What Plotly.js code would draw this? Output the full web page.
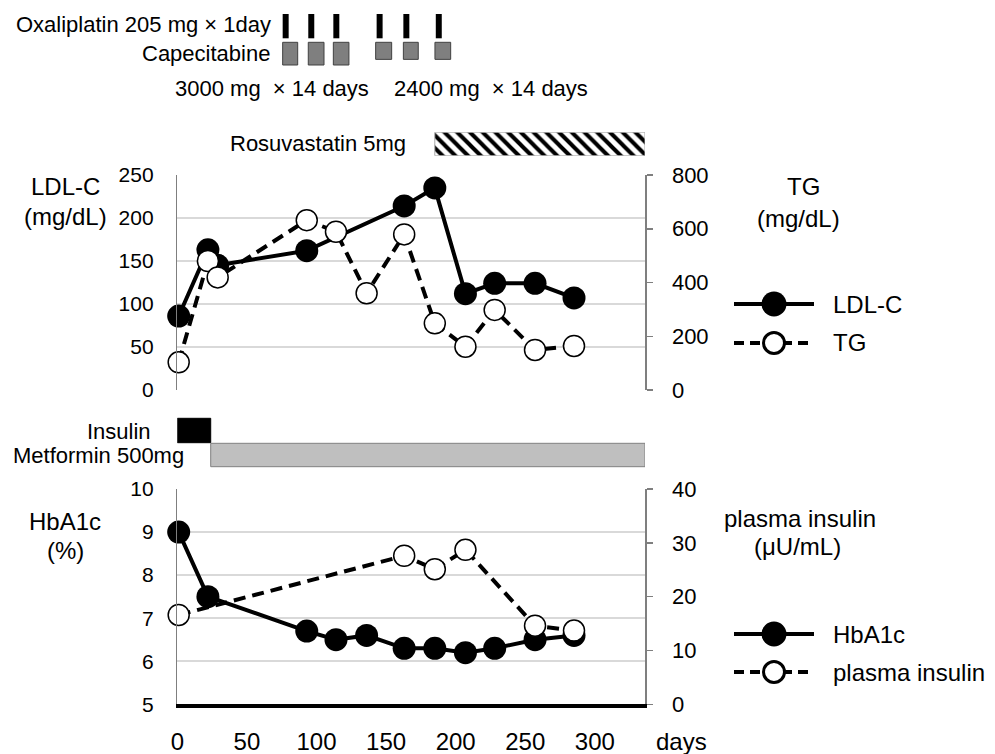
<!DOCTYPE html>
<html><head><meta charset="utf-8">
<script src="https://cdn.plot.ly/plotly-3.0.1.min.js"></script>
<style>html,body{margin:0;padding:0;background:#fff}</style>
</head><body><div id="chart" style="width:995px;height:754px"></div>
<script>
// ---- data ----
const xTicks = [0, 50, 100, 150, 200, 250, 300];
const xMax = 336;
const ldlDays = [1, 22, 29, 93, 163, 185, 207, 228, 257, 285];
const ldlValues = [86, 163, 145, 162, 214, 235, 112, 124, 124, 107];
const tgDays = [1, 22, 29, 93, 114, 136, 163, 185, 207, 228, 257, 285];
const tgValues = [103, 480, 419, 632, 589, 360, 579, 248, 161, 298, 149, 164];
const hba1cDays = [1, 22, 93, 114, 136, 163, 185, 207, 228, 257, 285];
const hba1cValues = [9.0, 7.5, 6.7, 6.5, 6.6, 6.3, 6.3, 6.2, 6.3, 6.5, 6.6];
const insulinDays = [1, 163, 185, 207, 257, 285];
const insulinValues = [16.6, 27.6, 25.1, 28.7, 14.6, 13.7];
const ldlTicks = [0, 50, 100, 150, 200, 250];
const tgTicks = [0, 200, 400, 600, 800];
const hba1cTicks = [5, 6, 7, 8, 9, 10];
const insulinTicks = [0, 10, 20, 30, 40];
const oxaliplatinDays = [75.7, 94.1, 112.1, 143.2, 162.4, 185.7];
const capecitabineStart = [75.7, 94.1, 112.1, 142.5, 162.4, 185.1];
const capecitabineEnd = [86.5, 105.4, 123.3, 154.0, 173.1, 196.4];
const capecitabineDose = [3000, 3000, 3000, 2400, 2400, 2400];
const rosuvastatinPeriod = [185, xMax];
const insulinTherapy = [0, 24];
const metforminPeriod = [24, xMax];

// ---- layout helpers ----
const W = 995, H = 754;
const px = x => x / W;
const py = y => 1 - y / H;
const FONT = 'Liberation Sans, Arial, Helvetica, sans-serif';
const xDom = [px(177.3), px(645)];
const AX = '#7f7f7f';
const GRID = '#d9d9d9';

const traces = [
  {x: ldlDays, y: ldlValues, xaxis: 'x', yaxis: 'y', mode: 'lines+markers', cliponaxis: false,
   line: {color: '#000', width: 4}, marker: {size: 23, color: '#000'}},
  {x: tgDays, y: tgValues, xaxis: 'x', yaxis: 'y2', mode: 'lines+markers', cliponaxis: false,
   line: {color: '#000', width: 4, dash: '12px,7px'}, marker: {size: 21, color: '#fff', line: {color: '#000', width: 1.5}}},
  {x: hba1cDays, y: hba1cValues, xaxis: 'x2', yaxis: 'y3', mode: 'lines+markers', cliponaxis: false,
   line: {color: '#000', width: 4}, marker: {size: 23, color: '#000'}},
  {x: insulinDays, y: insulinValues, xaxis: 'x2', yaxis: 'y4', mode: 'lines+markers', cliponaxis: false,
   line: {color: '#000', width: 4, dash: '12px,7px'}, marker: {size: 21, color: '#fff', line: {color: '#000', width: 1.5}}},
  {type: 'bar', orientation: 'h', y: [0], x: [rosuvastatinPeriod[1] - rosuvastatinPeriod[0]], base: [rosuvastatinPeriod[0]],
   width: [1], xaxis: 'x', yaxis: 'y5', hoverinfo: 'skip',
   marker: {color: '#fff', line: {color: '#a6a6a6', width: 1},
            pattern: {shape: '\\', fgcolor: '#000', bgcolor: '#fff', size: 9, solidity: 0.45}}}
];

const shapes = [];
// oxaliplatin
oxaliplatinDays.forEach(d => shapes.push({type: 'rect', xref: 'x', yref: 'paper', x0: d, x1: d + 4.3,
  y0: py(38.3), y1: py(14), fillcolor: '#000', line: {width: 0}}));
// capecitabine
capecitabineStart.forEach((d, i) => {
  const h = 22.7 * capecitabineDose[i] / 3000 * (capecitabineDose[i] < 3000 ? 0.94 : 1);
  shapes.push({type: 'rect', xref: 'x', yref: 'paper', x0: d, x1: capecitabineEnd[i],
    y0: py(42.3 + h), y1: py(42.3), fillcolor: '#7f7f7f', line: {color: '#404040', width: 1}});
});
// insulin & metformin
shapes.push({type: 'rect', xref: 'x', yref: 'paper', x0: insulinTherapy[0], x1: insulinTherapy[1],
  y0: py(442.7), y1: py(418.3), fillcolor: '#000', line: {color: '#000', width: 1}});
shapes.push({type: 'rect', xref: 'x', yref: 'paper', x0: metforminPeriod[0], x1: metforminPeriod[1],
  y0: py(466.7), y1: py(443.3), fillcolor: '#bfbfbf', line: {color: '#808080', width: 1}});

// legends
function legend(yc, filled) {
  shapes.push({type: 'line', xref: 'paper', yref: 'paper', x0: px(734), x1: px(814), y0: py(yc), y1: py(yc),
    line: {color: '#000', width: 4, dash: filled ? 'solid' : '10px,6px'}});
  const r = filled ? 12.5 : 10.5;
  shapes.push({type: 'circle', xref: 'paper', yref: 'paper', x0: px(774 - r), x1: px(774 + r), y0: py(yc + r), y1: py(yc - r),
    fillcolor: filled ? '#000' : '#fff', line: {color: '#000', width: filled ? 0 : 3}});
}
legend(304, true); legend(343, false); legend(634, true); legend(672, false);

const ann = [];
function txt(t, x, y, anchor, size) {
  ann.push({text: t, x: px(x), y: py(y), xref: 'paper', yref: 'paper', xanchor: anchor, yanchor: 'middle',
    showarrow: false, font: {family: FONT, size: size || 22, color: '#000'}});
}
txt('Oxaliplatin 205 mg × 1day', 273, 24, 'right');
txt('Capecitabine', 272, 53, 'right');
txt('3000 mg  × 14 days', 173, 89, 'left');
txt('2400 mg  × 14 days', 392, 89, 'left');
txt('Rosuvastatin 5mg', 408, 143, 'right');
txt('LDL-C', 65, 186, 'center', 24);
txt('(mg/dL)', 65, 217, 'center', 24);
txt('TG', 803, 186, 'center', 24);
txt('(mg/dL)', 798, 218, 'center', 24);
txt('Insulin', 153, 431, 'right');
txt('Metformin 500mg', 186, 456, 'right');
txt('HbA1c', 65, 521, 'center', 24);
txt('(%)', 65, 550, 'center', 24);
txt('plasma insulin', 800, 518, 'center', 24);
txt('(μU/mL)', 797, 546, 'center', 24);
txt('days', 654, 741, 'left', 24);
txt('LDL-C', 831, 304, 'left', 24);
txt('TG', 831, 343, 'left', 24);
txt('HbA1c', 831, 634, 'left', 24);
txt('plasma insulin', 831, 672, 'left', 24);

const leftAxis = (dom, range, ticks, anchor) => ({domain: dom, anchor: anchor, range: range, tickvals: ticks,
  showline: true, linecolor: AX, linewidth: 1.5, showgrid: true, gridcolor: GRID, gridwidth: 1.5, zeroline: false,
  ticks: '', ticklabelstandoff: 18, tickfont: {family: FONT, size: 21, color: '#000'}, fixedrange: true});
const rightAxis = (over, range, ticks, anchor) => ({overlaying: over, side: 'right', anchor: anchor, range: range, tickvals: ticks,
  showline: true, linecolor: AX, linewidth: 1.5, showgrid: false, zeroline: false,
  ticks: 'outside', ticklen: 6, tickwidth: 1.5, tickcolor: AX, ticklabelstandoff: 15,
  tickfont: {family: FONT, size: 22, color: '#000'}, fixedrange: true});

const layout = {
  width: W, height: H, margin: {l: 0, r: 0, t: 0, b: 0}, showlegend: false,
  paper_bgcolor: '#fff', plot_bgcolor: 'rgba(0,0,0,0)', font: {family: FONT, color: '#000'},
  xaxis: {domain: xDom, anchor: 'y', range: [0, xMax], showticklabels: false, showgrid: false, zeroline: false, showline: false, fixedrange: true},
  yaxis: leftAxis([py(390), py(175)], [0, 250], ldlTicks, 'x'),
  yaxis2: rightAxis('y', [0, 800], tgTicks, 'x'),
  xaxis2: {domain: xDom, anchor: 'y3', range: [0, xMax], tickvals: xTicks, showline: true, linecolor: '#000', linewidth: 3.5,
    showgrid: false, zeroline: false, ticks: '', ticklabelstandoff: 13, tickfont: {family: FONT, size: 24, color: '#000'}, fixedrange: true},
  yaxis3: leftAxis([py(704.3), py(489)], [5, 10], hba1cTicks, 'x2'),
  yaxis4: rightAxis('y3', [0, 40], insulinTicks, 'x2'),
  yaxis5: {domain: [py(155.7), py(132.3)], anchor: 'x', range: [-0.5, 0.5], visible: false, fixedrange: true},
  shapes: shapes, annotations: ann
};
Plotly.newPlot('chart', traces, layout, {displayModeBar: false, staticPlot: true});
</script></body></html>
